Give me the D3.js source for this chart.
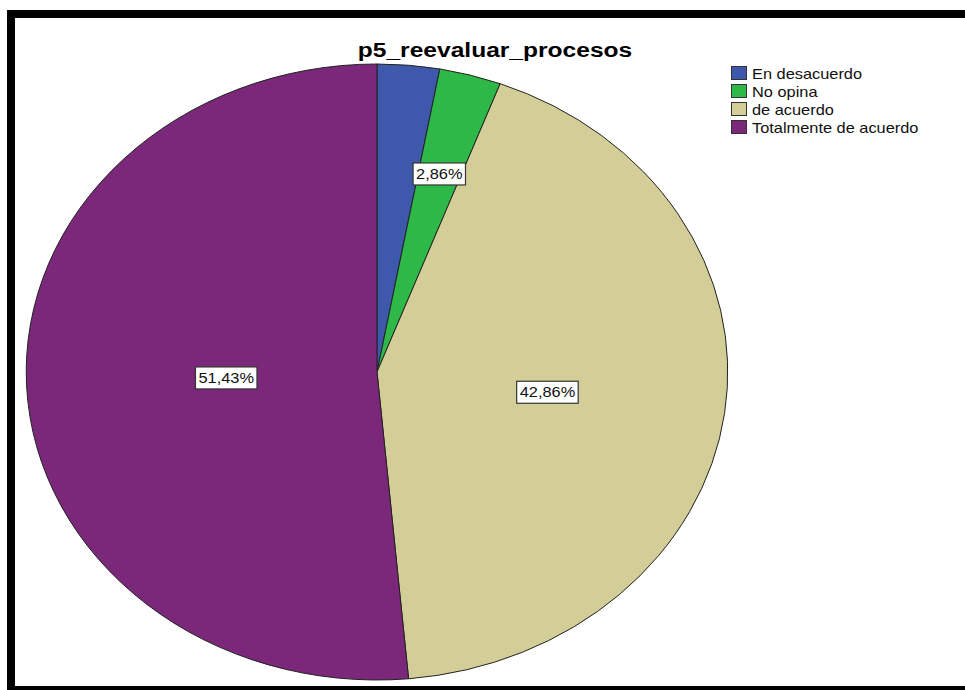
<!DOCTYPE html>
<html>
<head>
<meta charset="utf-8">
<script src="https://cdn.jsdelivr.net/npm/d3@7/dist/d3.min.js"></script>
<style>
  html, body { margin: 0; padding: 0; background: #fff; }
  svg { display: block; }
  text { font-family: "Liberation Sans", Arial, sans-serif; }
</style>
</head>
<body>
<svg id="chart" width="965" height="690"></svg>
<script>
// Response counts for "p5_reevaluar_procesos"
const categories = ["En desacuerdo", "No opina", "de acuerdo", "Totalmente de acuerdo"];
const counts = [1, 1, 15, 18];
const colors = ["#3E58AC", "#2EB848", "#D3CE97", "#7B277A"];
const title = "p5_reevaluar_procesos";
// which slices carry a percentage label
const showLabel = [false, true, true, true];

const W = 965, H = 690;
const textStretch = 1.17; // wide rendering of all text
const svg = d3.select("#chart");

// frame
svg.append("rect").attr("x", 7).attr("y", 10).attr("width", W - 7).attr("height", 8).attr("fill", "#000");
svg.append("rect").attr("x", 7).attr("y", 10).attr("width", 8).attr("height", H - 10).attr("fill", "#000");
svg.append("rect").attr("x", 7).attr("y", 686).attr("width", W - 7).attr("height", 4).attr("fill", "#000");

// title
svg.append("text")
  .attr("transform", `translate(495,57) scale(${textStretch},1)`)
  .attr("text-anchor", "middle")
  .attr("font-size", 21).attr("font-weight", "bold")
  .attr("fill", "#000")
  .text(title);

// elliptical pie: circular pie of unit radius scaled to rx / ry
const cx = 377, cy = 372, rx = 351, ry = 308;
const total = d3.sum(counts);
const pie = d3.pie().sort(null).value(d => d)(counts);
const arc = d3.arc().innerRadius(0).outerRadius(1);

const g = svg.append("g").attr("transform", `translate(${cx},${cy})`);
g.append("g")
  .attr("transform", `scale(${rx},${ry})`)
  .selectAll("path")
  .data(pie)
  .join("path")
  .attr("d", arc)
  .attr("fill", (d, i) => colors[i])
  .attr("stroke", "#222")
  .attr("stroke-width", 1)
  .attr("vector-effect", "non-scaling-stroke");

// percentage labels placed along each slice's mid angle
const labelRadius = [0.6, 0.667, 0.49, 0.43];
const fmt = v => d3.format(".2f")(v).replace(".", ",") + "%";
pie.forEach((d, i) => {
  if (!showLabel[i]) return;
  const a = (d.startAngle + d.endAngle) / 2;
  const x = cx + Math.sin(a) * rx * labelRadius[i];
  const y = cy - Math.cos(a) * ry * labelRadius[i];
  const lg = svg.append("g").attr("transform", `translate(${x},${y})`);
  const t = lg.append("text")
    .attr("transform", `scale(${textStretch},1)`)
    .attr("text-anchor", "middle")
    .attr("dy", "0.36em")
    .attr("font-size", 14)
    .attr("fill", "#111")
    .text(fmt(d.value / total * 100));
  const bb = t.node().getBBox();
  const w = bb.width * textStretch;
  lg.insert("rect", "text")
    .attr("x", -w / 2 - 3).attr("y", -11)
    .attr("width", w + 6).attr("height", 22)
    .attr("fill", "#fff")
    .attr("stroke", "#333").attr("stroke-width", 1.2);
});

// legend
const legend = svg.append("g").attr("transform", "translate(731,66)");
const rows = legend.selectAll("g").data(categories).join("g")
  .attr("transform", (d, i) => `translate(0,${i * 18})`);
rows.append("rect")
  .attr("x", 0.5).attr("y", 0.5)
  .attr("width", 15).attr("height", 13)
  .attr("fill", (d, i) => colors[i])
  .attr("stroke", "#333").attr("stroke-width", 1);
rows.append("text")
  .attr("transform", `translate(21,13) scale(${textStretch},1)`)
  .attr("font-size", 14)
  .attr("fill", "#111")
  .text(d => d);
</script>
</body>
</html>
